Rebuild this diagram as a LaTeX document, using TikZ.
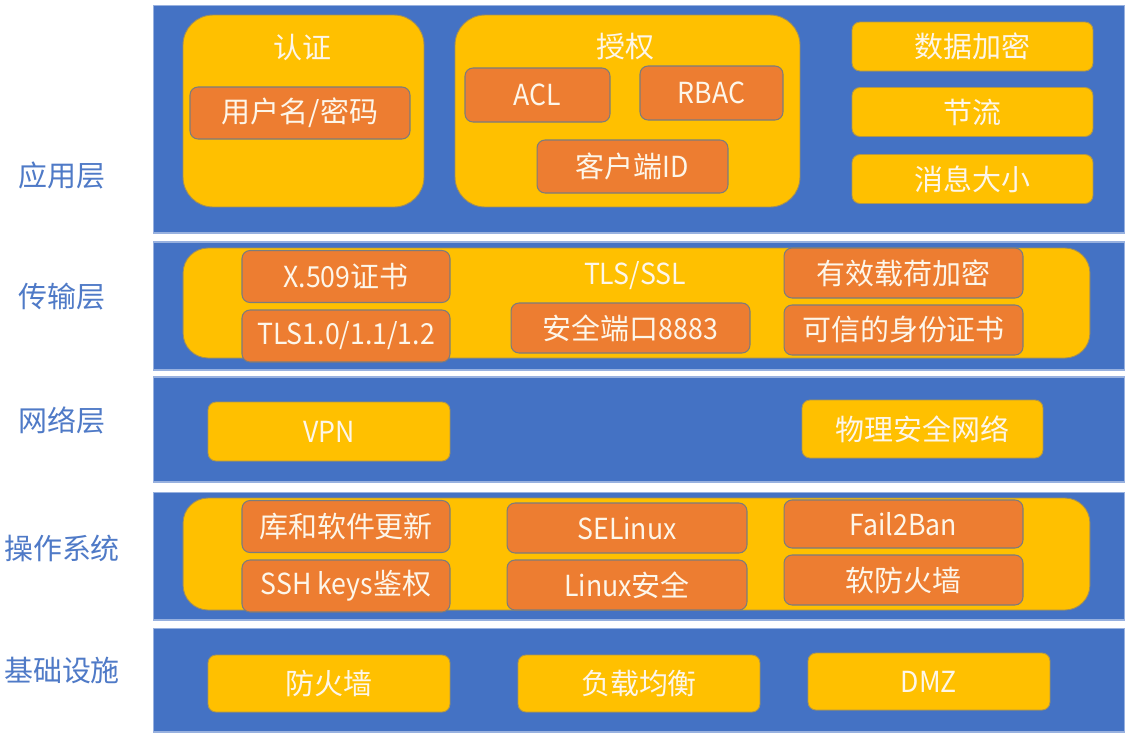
\documentclass[tikz,border=0pt]{standalone}
\usepackage{fontspec}
\setmainfont{Noto Sans CJK SC}
\newfontfamily\latn[FakeStretch=0.92]{Noto Sans CJK SC}
\usepackage{xcolor}
\usepackage{tikz}
\usetikzlibrary{positioning}
\definecolor{bandblue}{HTML}{4472C4}
\definecolor{gold}{HTML}{FFC000}
\definecolor{tangerine}{HTML}{ED7D31}
\definecolor{edgegray}{HTML}{7C7C7C}
\definecolor{cream}{HTML}{FDF6E9}
\definecolor{sideblue}{HTML}{4F7AC7}
\tikzset{
  layer/.style={rectangle, draw=bandblue!55!white, fill=bandblue, line width=0.6pt,
                minimum width=19.44cm, inner sep=0pt},
  group/.style={rectangle, draw=edgegray!70!gold, fill=gold, rounded corners=0.6cm,
                line width=0.5pt, inner sep=0pt},
  item/.style={rectangle, draw=edgegray, fill=tangerine, rounded corners=0.16cm,
               minimum width=4.16cm, minimum height=1.04cm, text=cream,
               line width=0.6pt, inner sep=0pt},
  tag/.style={rectangle, draw=edgegray!60!gold, fill=gold, rounded corners=0.16cm,
              minimum width=4.82cm, minimum height=0.98cm, text=cream,
              line width=0.5pt, inner sep=0pt},
  side/.style={text=sideblue, inner sep=0pt},
}

\begin{document}
\begin{tikzpicture}[
  x=0.02cm, y=-0.02cm,
  every node/.style={font=\fontsize{16.5}{19}\selectfont},
  title/.style={text=cream, inner sep=0pt}
]
  \useasboundingbox[fill=white] (0,0) rectangle (1135,735);

  % layers
  \node[layer, minimum height=4.56cm] (app)   at (639,119)   {};
  \node[layer, minimum height=2.56cm] (trans) at (639,306)   {};
  \node[layer, minimum height=2.10cm] (net)   at (639,429.5) {};
  \node[layer, minimum height=2.56cm] (os)    at (639,556)   {};
  \node[layer, minimum height=2.08cm] (infra) at (639,680)   {};

  \node[side] (appL)   at (62,175) {应用层};
  \node[side] (transL) at (62,297) {传输层};
  \node[side] (netL)   at (62,420) {网络层};
  \node[side] (osL)    at (62,548) {操作系统};
  \node[side] (infraL) at (62,670) {基础设施};

  % application layer
  \node[group, minimum width=4.82cm, minimum height=3.84cm] (authn) at (303.5,111) {};
  \node[title] (authnT) at (302,47) {认证};
  \node[item, minimum width=4.4cm] (pwd) at (300,113) {用户名/密码};

  \node[group, minimum width=6.9cm, minimum height=3.84cm] (authz) at (627.5,111) {};
  \node[title] (authzT) at (625,47) {授权};
  \node[item, minimum width=2.9cm, minimum height=1.08cm] (acl) at (537.5,95) {\latn ACL};
  \node[item, minimum width=2.86cm, minimum height=1.08cm] (rbac) at (711.5,93) {\latn RBAC};
  \node[item, minimum width=3.82cm, minimum height=1.06cm] (cid) at (632.5,166.5) {客户端{\latn ID}};

  \node[tag] (enc)  at (972.5,46.5) {数据加密};
  \node[tag] (thr)  at (972.5,112)  {节流};
  \node[tag] (size) at (972.5,179)  {消息大小};

  % transport layer
  \node[group, rounded corners=0.5cm, minimum width=18.14cm, minimum height=2.2cm] (tls) at (636.5,303) {};
  \node[title] (tlsT) at (635,276) {\latn TLS/SSL};
  \node[item] (x509) at (346,276.5) {{\latn X.509}证书};
  \node[item] (ver)  at (346,336)   {\latn TLS1.0/1.1/1.2};
  \node[item, minimum width=4.78cm, minimum height=1.0cm] (port) at (630.5,328) {安全端口{\latn 8883}};
  \node[item, minimum width=4.78cm, minimum height=1.0cm] (payload) at (903.5,273) {有效载荷加密};
  \node[item, minimum width=4.78cm, minimum height=1.0cm] (trust) at (903.5,330) {可信的身份证书};

  % network layer
  \node[tag, minimum width=4.84cm, minimum height=1.18cm] (vpn)  at (329,431.5) {\latn VPN};
  \node[tag, minimum width=4.82cm, minimum height=1.16cm] (phys) at (922.5,429) {物理安全网络};

  % operating system
  \node[group, rounded corners=0.5cm, minimum width=18.14cm, minimum height=2.24cm] (sys) at (636.5,554) {};
  \node[item] (upd) at (346,526.5) {库和软件更新};
  \node[item] (ssh) at (346,586)   {{\latn SSH keys}鉴权};
  \node[item, minimum width=4.8cm, minimum height=1.0cm] (selx) at (627,528) {\latn SELinux};
  \node[item, minimum width=4.8cm, minimum height=1.0cm] (lsec) at (627,585) {{\latn Linux}安全};
  \node[item, minimum width=4.78cm, minimum height=0.96cm] (f2b) at (903.5,524) {\latn Fail2Ban};
  \node[item, minimum width=4.78cm, minimum height=1.0cm] (swfw) at (903.5,580) {软防火墙};

  % infrastructure
  \node[tag, minimum width=4.84cm, minimum height=1.14cm] (fw)  at (329,683.5) {防火墙};
  \node[tag, minimum width=4.84cm, minimum height=1.14cm] (lb)  at (639,683.5) {负载均衡};
  \node[tag, minimum width=4.84cm, minimum height=1.14cm] (dmz) at (929,681.5) {\latn DMZ};
\end{tikzpicture}
\end{document}
